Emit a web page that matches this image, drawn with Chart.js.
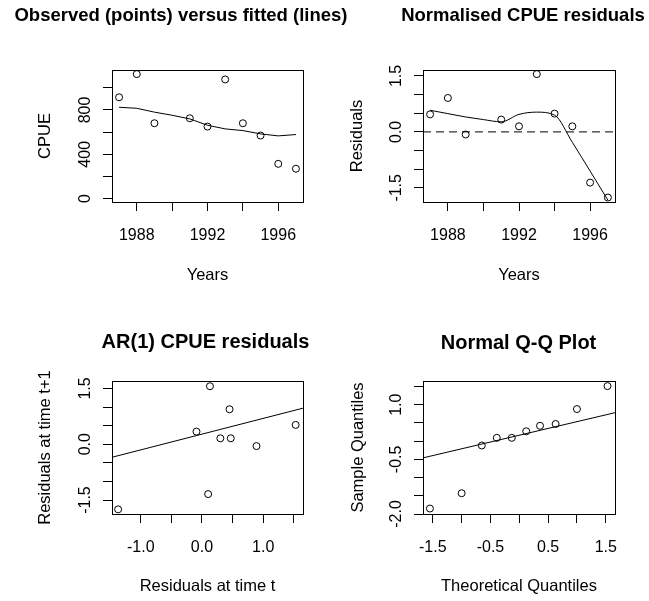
<!DOCTYPE html>
<html>
<head>
<meta charset="utf-8">
<title>CPUE diagnostics</title>
<script src="https://cdn.jsdelivr.net/npm/chart.js@4.4.1/dist/chart.umd.min.js"></script>
<style>
  html, body { margin: 0; padding: 0; background: #fff; overflow: hidden; }
  body { width: 649px; height: 601px; position: relative; }
  canvas { position: absolute; }
</style>
</head>
<body>
<canvas id="fitPlot"></canvas>
<canvas id="residPlot"></canvas>
<canvas id="lagPlot"></canvas>
<canvas id="qqPlot"></canvas>
<script>
// observed (points) and fitted (line) CPUE
const obsYears = [1987, 1988, 1989, 1991, 1992, 1993, 1994, 1995, 1996, 1997];
const cpueObs = [914, 1123, 680, 725, 650, 1075, 680, 569, 314, 270];
const fitYears = [1987, 1988, 1989, 1990, 1991, 1992, 1993, 1994, 1995, 1996, 1997];
const cpueFit = [824, 815, 780, 752, 719, 662, 629, 614, 584, 566, 578];
const yearLim = [1986.6, 1997.4];
const yearTicks = [1988, 1990, 1992, 1994, 1996];
const yearLabels = [1988, 1992, 1996];
const cpueLim = [-30, 1160];
const cpueTicks = [0, 200, 400, 600, 800, 1000];
const cpueLabels = [0, 400, 800];

// normalised residuals + smoother
const residObs = [0.47, 0.91, -0.07, 0.33, 0.15, 1.55, 0.49, 0.15, -1.36, -1.76];
const residSmooth = [0.58, 0.49, 0.40, 0.33, 0.27, 0.47, 0.53, 0.45, -0.28, -1.05, -1.83];
const residLim = [-1.88, 1.66];
const residTicks = [-1.5, -1.0, -0.5, 0, 0.5, 1.0, 1.5];
const residLabels = [-1.5, 0, 1.5];

// AR(1) residuals, r(t) vs r(t+1)
const lagT = [-1.37, 0.13, -0.09, 0.45, 0.30, 0.47, 0.10, 0.89, 1.53];
const lagT1 = [-1.75, 1.56, 0.34, 0.94, 0.16, 0.16, -1.34, -0.05, 0.52];
const lagXLim = [-1.47, 1.65];
const lagYLim = [-1.875, 1.70];
const lagFitY = [-0.35, 0.97];
const lagXTicks = [-1.0, -0.5, 0, 0.5, 1.0, 1.5];
const lagXLabels = [-1.0, 0, 1.0];

// normal Q-Q
const theoQ = [-1.55, -1.00, -0.65, -0.39, -0.13, 0.12, 0.36, 0.63, 1.00, 1.53];
const sampleQ = [-1.85, -1.43, -0.12, 0.09, 0.09, 0.27, 0.42, 0.47, 0.88, 1.51];
const qqXLim = [-1.67, 1.66];
const qqYLim = [-2.0, 1.65];
const qqLineY = [-0.46, 0.78];
const qqXTicks = [-1.5, -1.0, -0.5, 0, 0.5, 1.0, 1.5];
const qqXLabels = [-1.5, -0.5, 0.5, 1.5];
const qqYTicks = [-2.0, -1.5, -1.0, -0.5, 0, 0.5, 1.0, 1.5];
const qqYLabels = [-2.0, -0.5, 1.0];

Chart.defaults.font.family = 'Liberation Sans, Arial, sans-serif';
Chart.defaults.color = '#000';

const plain = v => String(v);
const oneDec = v => v.toFixed(1);
const pairs = (xs, ys) => xs.map((x, i) => ({ x: x, y: ys[i] }));

// R style closed box round the plot region
const boxFrame = {
  id: 'boxFrame',
  afterDatasetsDraw(chart) {
    const a = chart.chartArea, ctx = chart.ctx;
    const al = p => Math.round(p - 0.5) + 0.5;
    ctx.save();
    ctx.strokeStyle = '#000';
    ctx.lineWidth = 1;
    ctx.strokeRect(al(a.left), al(a.top), al(a.right) - al(a.left), al(a.bottom) - al(a.top));
    ctx.restore();
  }
};

function pointsSet(data) {
  return { data: data, showLine: false, pointRadius: 3.5, pointHoverRadius: 3.5,
    pointBorderColor: '#000', pointBackgroundColor: 'rgba(0,0,0,0)', pointBorderWidth: 1 };
}
function lineSet(data, extra) {
  return Object.assign({ data: data, showLine: true, borderColor: '#000', borderWidth: 1,
    pointRadius: 0, tension: 0 }, extra || {});
}

function axis(pos, lim, ticks, labels, fmt, title, g) {
  const horiz = pos === 'bottom';
  return {
    type: 'linear', position: pos, min: lim[0], max: lim[1],
    afterBuildTicks: s => { s.ticks = ticks.map(v => ({ value: v })); },
    afterFit: s => { if (horiz) s.height = g.xH; else s.width = g.yW; },
    ticks: {
      autoSkip: false,
      minRotation: horiz ? 0 : 90, maxRotation: horiz ? 0 : 90,
      crossAlign: horiz ? 'near' : 'center',
      padding: horiz ? 15.4 : 4,
      font: { size: 16 },
      callback: v => labels.some(l => Math.abs(l - v) < 1e-9) ? fmt(v) : ''
    },
    grid: { drawOnChartArea: false, drawTicks: true, tickLength: 9, tickColor: '#000', tickWidth: 1 },
    border: { display: false },
    title: { display: true, text: title, font: { size: 16.5 },
      padding: horiz ? { top: 0, bottom: g.xTitlePad } : { top: g.yTitlePad, bottom: 0 } }
  };
}

function panel(id, g, cfg) {
  const el = document.getElementById(id);
  el.width = g.w; el.height = g.h;
  el.style.left = g.x + 'px';
  el.style.top = g.y + 'px';
  return new Chart(el, {
    type: 'scatter',
    data: { datasets: cfg.datasets },
    options: {
      responsive: false, animation: false, devicePixelRatio: 1,
      layout: { padding: 0 },
      plugins: {
        legend: { display: false },
        tooltip: { enabled: false },
        colors: { enabled: false },
        title: { display: true, text: cfg.title, color: '#000',
          font: { size: g.titleSize, weight: 'bold' },
          padding: { top: g.titleTop, bottom: g.titleBottom } }
      },
      scales: {
        x: cfg.x,
        y: cfg.y,
        spacer: { type: 'linear', position: 'right', display: true,
          ticks: { display: false }, grid: { display: false }, border: { display: false },
          afterFit: s => { s.width = g.rightGap; } }
      }
    },
    plugins: [boxFrame]
  });
}

// geometry of each panel (canvas placement and margins)
const g1 = { x: 0, y: 0, w: 362, h: 300, yW: 112, rightGap: 59, xH: 98,
  titleSize: 18.5, titleTop: 5.2, titleBottom: 42.6, yTitlePad: 35.1, xTitlePad: 15.1 };
const g2 = { x: 324, y: 0, w: 398, h: 300, yW: 99, rightGap: 107, xH: 98,
  titleSize: 18.5, titleTop: 5.2, titleBottom: 42.6, yTitlePad: 23.4, xTitlePad: 15.1 };
const g3 = { x: 0, y: 300, w: 411, h: 301, yW: 112, rightGap: 108, xH: 87,
  titleSize: 20, titleTop: 30.7, titleBottom: 26.3, yTitlePad: 35.9, xTitlePad: 5.1 };
const g4 = { x: 324, y: 300, w: 389, h: 301, yW: 99, rightGap: 98, xH: 87,
  titleSize: 20, titleTop: 31.3, titleBottom: 25.7, yTitlePad: 24.4, xTitlePad: 5.1 };

panel('fitPlot', g1, {
  title: 'Observed (points) versus fitted (lines)',
  datasets: [
    pointsSet(pairs(obsYears, cpueObs)),
    lineSet(pairs(fitYears, cpueFit))
  ],
  x: axis('bottom', yearLim, yearTicks, yearLabels, plain, 'Years', g1),
  y: axis('left', cpueLim, cpueTicks, cpueLabels, plain, 'CPUE', g1)
});

panel('residPlot', g2, {
  title: 'Normalised CPUE residuals',
  datasets: [
    pointsSet(pairs(obsYears, residObs)),
    lineSet(pairs(fitYears, residSmooth), { cubicInterpolationMode: 'monotone' }),
    lineSet(yearLim.map(x => ({ x: x, y: 0 })), { borderDash: [8, 5] })
  ],
  x: axis('bottom', yearLim, yearTicks, yearLabels, plain, 'Years', g2),
  y: axis('left', residLim, residTicks, residLabels, oneDec, 'Residuals', g2)
});

panel('lagPlot', g3, {
  title: 'AR(1) CPUE residuals',
  datasets: [
    pointsSet(pairs(lagT, lagT1)),
    lineSet(pairs(lagXLim, lagFitY))
  ],
  x: axis('bottom', lagXLim, lagXTicks, lagXLabels, oneDec, 'Residuals at time t', g3),
  y: axis('left', lagYLim, residTicks, residLabels, oneDec, 'Residuals at time t+1', g3)
});

panel('qqPlot', g4, {
  title: 'Normal Q-Q Plot',
  datasets: [
    pointsSet(pairs(theoQ, sampleQ)),
    lineSet(pairs(qqXLim, qqLineY))
  ],
  x: axis('bottom', qqXLim, qqXTicks, qqXLabels, oneDec, 'Theoretical Quantiles', g4),
  y: axis('left', qqYLim, qqYTicks, qqYLabels, oneDec, 'Sample Quantiles', g4)
});
</script>
</body>
</html>
